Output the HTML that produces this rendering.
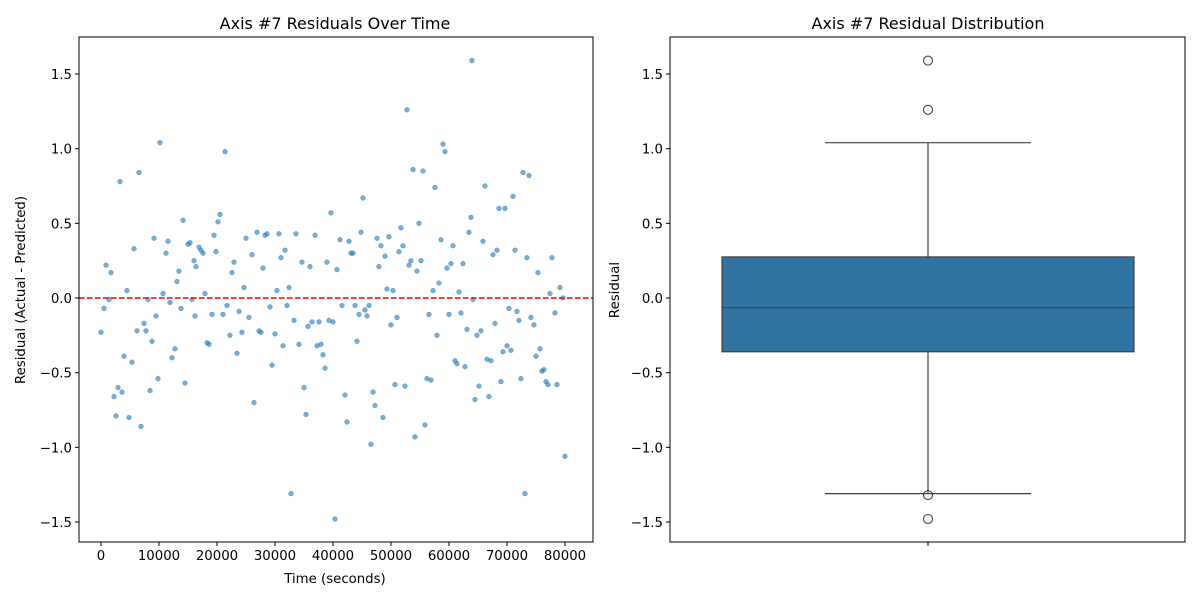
<!DOCTYPE html>
<html><head><meta charset="utf-8"><style>
body{margin:0;background:#fff;}
svg{display:block;font-family:"DejaVu Sans","Liberation Sans",sans-serif;}
</style></head><body>
<svg id="chart" width="1200" height="600"></svg>
<script>
const times=[63960,0,517,862,1379,1724,2241,2586,2931,3276,3620,3965,4482,4827,5344,5689,6206,6551,6896,7413,7758,8103,8448,8792,9137,9482,9827,10172,10689,11206,11551,11896,12240,12758,13102,13447,13792,14137,14482,14999,15344,15688,16033,16206,16378,16895,17240,17585,17930,18274,18619,19136,19481,19826,20171,20516,21033,21378,21722,22240,22584,22929,23446,23791,24308,24653,24998,25515,26032,26377,26894,27239,27584,27929,28274,28618,29136,29480,29998,30342,30687,31032,31377,31722,32066,32411,32756,33273,33618,34135,34652,34997,35342,35687,36032,36376,36894,37238,37583,37928,38273,38618,38962,39307,39652,39997,40342,40686,41204,41548,42066,42410,42755,43100,43445,43790,44134,44479,44824,45169,45514,45858,46203,46548,46893,47238,47582,47927,48272,48617,48962,49306,49651,49996,50341,50686,51030,51375,51720,52065,52410,52754,53099,53444,53789,54134,54478,54823,55168,55513,55858,56202,56547,56892,57237,57582,57926,58271,58616,58961,59306,59650,59995,60340,60685,61030,61374,61719,62064,62409,62754,63098,63443,63788,64133,64478,64822,65167,65512,65857,66202,66546,66891,67236,67581,67926,68270,68615,68960,69305,69650,69994,70339,70684,71029,71374,71718,72063,72408,72753,73098,73442,73787,74132,74650,74994,75339,75684,76029,76374,76718,77063,77408,77753,78270,78615,79132,79649,79994,80400];
const residuals=[1.59,-0.23,-0.07,0.22,-0.01,0.17,-0.66,-0.79,-0.60,0.78,-0.63,-0.39,0.05,-0.80,-0.43,0.33,-0.22,0.84,-0.86,-0.17,-0.22,-0.01,-0.62,-0.29,0.40,-0.12,-0.54,1.04,0.03,0.30,0.38,-0.03,-0.40,-0.34,0.11,0.18,-0.07,0.52,-0.57,0.36,0.37,-0.01,0.25,-0.12,0.21,0.34,0.32,0.30,0.03,-0.30,-0.31,-0.11,0.42,0.31,0.51,0.56,-0.11,0.98,-0.05,-0.25,0.17,0.24,-0.37,-0.09,-0.23,0.07,0.40,-0.13,0.29,-0.70,0.44,-0.22,-0.23,0.20,0.42,0.43,-0.06,-0.45,-0.24,0.05,0.43,0.27,-0.32,0.32,-0.05,0.07,-1.31,-0.15,0.43,-0.31,0.24,-0.60,-0.78,-0.19,0.21,-0.16,0.42,-0.32,-0.16,-0.31,-0.38,-0.47,0.24,-0.15,0.57,-0.16,-1.48,0.19,0.39,-0.05,-0.65,-0.83,0.38,0.30,0.30,-0.05,-0.29,-0.11,0.44,0.67,-0.08,-0.12,-0.05,-0.98,-0.63,-0.72,0.40,0.21,0.35,-0.80,0.28,0.06,0.41,-0.18,0.05,-0.58,-0.13,0.31,0.47,0.35,-0.59,1.26,0.22,0.25,0.86,-0.93,0.18,0.50,0.25,0.85,-0.85,-0.54,-0.11,-0.55,0.05,0.74,-0.25,0.10,0.39,1.03,0.98,0.20,-0.11,0.23,0.35,-0.42,-0.44,0.04,-0.10,0.23,-0.46,-0.21,0.44,0.54,-0.01,-0.68,-0.25,-0.59,-0.22,0.38,0.75,-0.41,-0.66,-0.42,0.29,-0.17,0.32,0.60,-0.56,-0.36,0.60,-0.32,-0.07,-0.35,0.68,0.32,-0.09,-0.15,-0.54,0.84,-1.31,0.27,0.82,-0.13,-0.18,-0.39,0.17,-0.34,-0.49,-0.48,-0.56,-0.58,0.03,0.27,-0.10,-0.58,0.07,0.00,-1.06];
const xTicks=[0,10000,20000,30000,40000,50000,60000,70000,80000];
const yTicks=[-1.5,-1.0,-0.5,0.0,0.5,1.0,1.5];
const yTickLabels=["\u22121.5","\u22121.0","\u22120.5","0.0","0.5","1.0","1.5"];
const boxStats=[-1.31,-0.36,-0.065,0.275,1.04]; // whiskerLow, q1, median, q3, whiskerHigh
const outliers=[1.59,1.26,-1.32,-1.48];

const NS="http://www.w3.org/2000/svg";
const svg=document.getElementById('chart');
function mk(tag,attrs,parent){const e=document.createElementNS(NS,tag);for(const k in attrs)e.setAttribute(k,attrs[k]);(parent||svg).appendChild(e);return e;}
const L={x0:79,x1:593,y0:37,y1:542};
const R={x0:670,x1:1185,y0:37,y1:542};
const xs=t=>101+(t/80000)*(565-101);
const ys=v=>298-v*149.33;
const FS=13.3;

const lp=mk('g',{});


const n=Math.min(times.length,residuals.length);
for(let i=0;i<n;i++){
  const c=mk('circle',{cx:xs(times[i]),cy:ys(residuals[i]),r:2.4,fill:'#1f77b4','fill-opacity':0.6,stroke:'#1f77b4','stroke-opacity':0.6,'stroke-width':0.5},lp);
  
  
}
const zl=mk('line',{x1:L.x0,x2:L.x1,y1:ys(0),y2:ys(0),stroke:'#ff0000','stroke-width':1.5,'stroke-dasharray':'5.5,2.5'},lp);


mk('rect',{x:L.x0,y:L.y0,width:L.x1-L.x0,height:L.y1-L.y0,fill:'none',stroke:'#000','stroke-width':1},lp);
xTicks.forEach(t=>{
  mk('line',{x1:xs(t),x2:xs(t),y1:L.y1,y2:L.y1+4,stroke:'#000'},lp);
  const tx=mk('text',{x:xs(t),y:L.y1+18,'text-anchor':'middle','font-size':FS},lp);tx.textContent=t;
  
  
});
function yAxis(P,g){
  yTicks.forEach((v,i)=>{
    mk('line',{x1:P.x0-4,x2:P.x0,y1:ys(v),y2:ys(v),stroke:'#000'},g);
    const tx=mk('text',{x:P.x0-7,y:ys(v)+5,'text-anchor':'end','font-size':FS},g);tx.textContent=yTickLabels[i];
    
    
  });
}
yAxis(L,lp);
let t=mk('text',{x:335,y:29,'text-anchor':'middle','font-size':16},lp);t.textContent='Axis #7 Residuals Over Time';


t=mk('text',{x:335,y:583,'text-anchor':'middle','font-size':FS},lp);t.textContent='Time (seconds)';


t=mk('text',{x:25,y:290,'text-anchor':'middle','font-size':FS,transform:'rotate(-90 25 290)'},lp);t.textContent='Residual (Actual - Predicted)';



const rp=mk('g',{});


const cx=928,bw=412,cw=206;
mk('line',{x1:cx,x2:cx,y1:ys(boxStats[3]),y2:ys(boxStats[4]),stroke:'#3f3f3f','stroke-width':1.2},rp);
mk('line',{x1:cx,x2:cx,y1:ys(boxStats[1]),y2:ys(boxStats[0]),stroke:'#3f3f3f','stroke-width':1.2},rp);
mk('line',{x1:cx-cw/2,x2:cx+cw/2,y1:ys(boxStats[4]),y2:ys(boxStats[4]),stroke:'#3f3f3f','stroke-width':1.2},rp);
mk('line',{x1:cx-cw/2,x2:cx+cw/2,y1:ys(boxStats[0]),y2:ys(boxStats[0]),stroke:'#3f3f3f','stroke-width':1.2},rp);
const box=mk('rect',{x:cx-bw/2,y:ys(boxStats[3]),width:bw,height:ys(boxStats[1])-ys(boxStats[3]),fill:'#3274a1',stroke:'#3f3f3f','stroke-width':1.2},rp);


mk('line',{x1:cx-bw/2,x2:cx+bw/2,y1:ys(boxStats[2]),y2:ys(boxStats[2]),stroke:'#3f3f3f','stroke-width':1.2},rp);
outliers.forEach(v=>{
  const c=mk('circle',{cx:cx,cy:ys(v),r:4.5,fill:'none',stroke:'#3f3f3f','stroke-width':1.1},rp);
  
  
});
mk('rect',{x:R.x0,y:R.y0,width:R.x1-R.x0,height:R.y1-R.y0,fill:'none',stroke:'#000','stroke-width':1},rp);
mk('line',{x1:cx,x2:cx,y1:R.y1,y2:R.y1+4,stroke:'#000'},rp);
yAxis(R,rp);
t=mk('text',{x:928,y:29,'text-anchor':'middle','font-size':16},rp);t.textContent='Axis #7 Residual Distribution';


t=mk('text',{x:619,y:290,'text-anchor':'middle','font-size':FS,transform:'rotate(-90 619 290)'},rp);t.textContent='Residual';


</script>
</body></html>
